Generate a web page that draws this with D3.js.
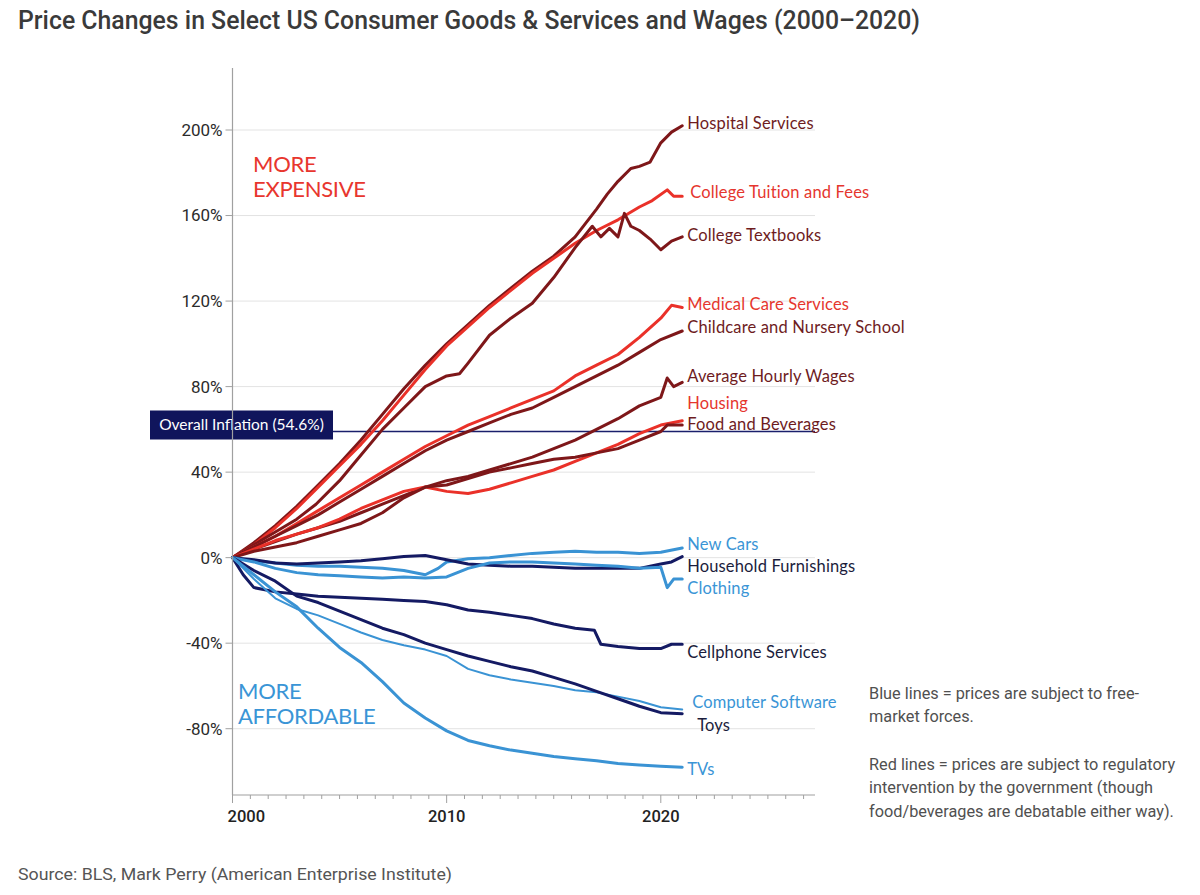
<!DOCTYPE html>
<html>
<head>
<meta charset="utf-8">
<script src="https://cdn.jsdelivr.net/npm/d3@7"></script>
<style>
  body { margin: 0; background: #fff; }
  svg { display: block; }
</style>
</head>
<body>
<script>
// values in % change since 2000
const hospitalServices = [[2000,0],[2001,7],[2002,15],[2003,24],[2004,34],[2005,44],[2006,55],[2007,67],[2008,79],[2009,90],[2010,100],[2011,109],[2012,118],[2013,126],[2014,134],[2015,141],[2016,150],[2017,163],[2017.5,170],[2018,176],[2018.6,182],[2019,183],[2019.5,185],[2020,194],[2020.5,199],[2021,202]];
const collegeTuition = [[2000,0],[2001,6],[2002,14],[2003,23],[2004,33],[2005,43],[2006,53],[2007,64],[2008,76],[2009,88],[2010,99],[2011,108],[2012,117],[2013,125],[2014,133],[2015,140],[2016,147],[2017,153],[2018,158],[2019,164],[2019.6,167],[2020.3,172],[2020.6,169],[2021,169]];
const collegeTextbooks = [[2000,0],[2001,6],[2002,12],[2003,18],[2003.9,25],[2005,36],[2006,48],[2007,60],[2008,70],[2009,80],[2010,85],[2010.6,86],[2011,91],[2012,104],[2013,112],[2014,119],[2015,131],[2016,145],[2016.8,155],[2017.2,150],[2017.6,154],[2018,150],[2018.3,161],[2018.6,155],[2019,153],[2019.5,149],[2020,144],[2020.5,148],[2021,150]];
const medicalCare = [[2000,0],[2001,5],[2002,10],[2003,16],[2004,22],[2005,28],[2006,34],[2007,40],[2008,46],[2009,52],[2010,57],[2011,62],[2012,66],[2013,70],[2014,74],[2015,78],[2016,85],[2017,90],[2018,95],[2019,103],[2020,112],[2020.5,118],[2021,117]];
const childcare = [[2000,0],[2001,5],[2002,10],[2003,15],[2004,20],[2005,26],[2006,32],[2007,38],[2008,44],[2009,50],[2010,55],[2011,59],[2012,63],[2013,67],[2014,70],[2015,75],[2016,80],[2017,85],[2018,90],[2019,96],[2020,102],[2021,106]];
const hourlyWages = [[2000,0],[2001,4],[2002,7.5],[2003,11],[2004,14],[2005,17],[2006,21],[2007,25],[2008,29],[2009,33],[2010,36],[2011,38],[2012,41],[2013,44],[2014,47],[2015,51],[2016,55],[2017,60],[2018,65],[2019,71],[2020,75],[2020.3,84],[2020.6,80],[2021,82]];
const housing = [[2000,0],[2001,4],[2002,8],[2003,11],[2004,14],[2005,18],[2006,23],[2007,27],[2008,31],[2009,33],[2010,31],[2011,30],[2012,32],[2013,35],[2014,38],[2015,41],[2016,45],[2017,49],[2018,53],[2019,58],[2020,62],[2021,64]];
const foodBeverages = [[2000,0],[2001,3],[2002,5],[2003,7],[2004,10],[2005,13],[2006,16],[2007,21],[2008,28],[2009,33],[2010,34],[2011,37],[2012,40],[2013,42],[2014,44],[2015,46],[2016,47],[2017,49],[2018,51],[2019,55],[2020,59],[2020.3,62],[2021,62]];
const newCars = [[2000,0],[2001,-1.5],[2002,-2.5],[2003,-3.5],[2004,-4],[2005,-4],[2006,-4.5],[2007,-5],[2008,-6],[2009,-8],[2009.6,-5],[2010,-2],[2011,-0.5],[2012,0],[2013,1],[2014,2],[2015,2.5],[2016,3],[2017,2.5],[2018,2.5],[2019,2],[2020,2.5],[2021,4.5]];
const householdFurnishings = [[2000,0],[2001,-1],[2002,-2.5],[2003,-3],[2004,-2.5],[2005,-2],[2006,-1.5],[2007,-0.5],[2008,0.5],[2009,1],[2010,-1],[2011,-3],[2012,-3.5],[2013,-4],[2014,-4],[2015,-4.5],[2016,-5],[2017,-5],[2018,-5],[2019,-5],[2020,-3],[2020.5,-2],[2021,0.5]];
const clothing = [[2000,0],[2001,-2],[2002,-5],[2003,-7],[2004,-8],[2005,-8.5],[2006,-9],[2007,-9.5],[2008,-9],[2009,-9.5],[2010,-9],[2011,-5],[2012,-2.5],[2013,-2],[2014,-2],[2015,-2.5],[2016,-3],[2017,-3.5],[2018,-4],[2019,-5],[2020,-4.5],[2020.3,-14],[2020.6,-10],[2021,-10]];
const cellphoneServices = [[2000,0],[2000.5,-8],[2001,-14],[2002,-16],[2003,-17],[2004,-18],[2005,-18.5],[2006,-19],[2007,-19.5],[2008,-20],[2009,-20.5],[2010,-22],[2011,-24.5],[2012,-25.5],[2013,-27],[2014,-28.5],[2015,-31],[2016,-33],[2016.9,-34],[2017.2,-40.5],[2018,-41.5],[2019,-42.5],[2020,-42.5],[2020.5,-40.5],[2021,-40.5]];
const computerSoftware = [[2000,0],[2001,-10],[2002,-19],[2003,-24],[2004,-27],[2005,-31],[2006,-35],[2007,-38.5],[2008,-41],[2009,-43],[2010,-46],[2011,-52],[2012,-55],[2013,-57],[2014,-58.5],[2015,-60],[2016,-62],[2017,-63],[2018,-65],[2019,-67],[2020,-70],[2021,-71]];
const toys = [[2000,0],[2001,-6],[2002,-11],[2003,-18],[2004,-21],[2005,-25],[2006,-29],[2007,-33],[2008,-36],[2009,-40],[2010,-43],[2011,-46],[2012,-48.5],[2013,-51],[2014,-53],[2015,-56],[2016,-59],[2017,-62.5],[2018,-66],[2019,-69.5],[2020,-72.5],[2021,-73]];
const tvs = [[2000,0],[2001,-8],[2002,-16],[2003,-23],[2004,-33],[2005,-42],[2006,-49],[2007,-58],[2008,-68],[2009,-75],[2010,-81],[2011,-85.5],[2012,-88],[2013,-90],[2014,-91.5],[2015,-93],[2016,-94],[2017,-95],[2018,-96.3],[2019,-97],[2020,-97.5],[2021,-98]];

const seriesNames = ['Hospital Services', 'College Tuition and Fees', 'College Textbooks', 'Medical Care Services',
  'Childcare and Nursery School', 'Average Hourly Wages', 'Housing', 'Food and Beverages',
  'New Cars', 'Household Furnishings', 'Clothing', 'Cellphone Services', 'Computer Software', 'Toys', 'TVs'];
const seriesValues = [hospitalServices, collegeTuition, collegeTextbooks, medicalCare, childcare, hourlyWages,
  housing, foodBeverages, newCars, householdFurnishings, clothing, cellphoneServices, computerSoftware, toys, tvs];
const seriesGroup = ['darkred', 'red', 'darkred', 'red', 'darkred', 'darkred', 'red', 'darkred',
  'blue', 'navy', 'blue', 'navy', 'blue', 'navy', 'blue'];
// value (in %) at which each end label sits
const labelValues = [203, 170.8, 151, 118.5, 107.6, 85, 72, 62.5, 6.5, -4.2, -14.5, -44, -67.4, -78.6, -99];

const yTicks = [-80, -40, 0, 40, 80, 120, 160, 200];
const xLabelYears = [2000, 2010, 2020];
const inflationValue = 59;
const inflationText = 'Overall Inflation (54.6%)';

// layout
const width = 1200;
const height = 895;
const lineColor = { darkred: '#7e1719', red: '#ea3129', blue: '#3a93d4', navy: '#141a63' };
const labelColor = { darkred: '#6e1c1e', red: '#e5362e', blue: '#3a95d6', navy: '#1b1d3c' };
const labelDx = { 'Computer Software': 5, 'Toys': 10, 'College Tuition and Fees': 3 };

const x = d3.scaleLinear().domain([2000, 2027.2]).range([232.5, 815]);
const y = d3.scaleLinear().domain([-111, 229]).range([795, 68]);

const svg = d3.select('body').append('svg')
  .attr('width', width)
  .attr('height', height);

svg.append('rect').attr('width', width).attr('height', height).attr('fill', '#fff');

// title
svg.append('text')
  .attr('x', 18)
  .attr('y', 29)
  .attr('fill', '#3a3a3a')
  .style('font-family', 'Roboto')
  .style('font-weight', 500)
  .style('font-size', '26px')
  .attr('textLength', 902)
  .attr('lengthAdjust', 'spacingAndGlyphs')
  .text('Price Changes in Select US Consumer Goods & Services and Wages (2000\u20132020)');

// gridlines
svg.append('g')
  .selectAll('line')
  .data(yTicks)
  .join('line')
    .attr('x1', x(2000))
    .attr('x2', 815)
    .attr('y1', d => y(d))
    .attr('y2', d => y(d))
    .attr('stroke', '#e3e3e3')
    .attr('stroke-width', 1);

// overall inflation line + box
svg.append('line')
  .attr('x1', 333)
  .attr('x2', 815)
  .attr('y1', y(inflationValue))
  .attr('y2', y(inflationValue))
  .attr('stroke', '#1a1f6b')
  .attr('stroke-width', 1.5);

svg.append('rect')
  .attr('x', 150)
  .attr('y', y(inflationValue) - 21)
  .attr('width', 183)
  .attr('height', 29)
  .attr('fill', '#10155c');

svg.append('text')
  .attr('x', 241.5)
  .attr('y', y(inflationValue) - 6.5)
  .attr('dy', '0.35em')
  .attr('text-anchor', 'middle')
  .attr('fill', '#fff')
  .style('font-family', 'Lato')
  .style('font-size', '15.5px')
  .text(inflationText);

// lines
const line = d3.line()
  .x(d => x(d[0]))
  .y(d => y(d[1]));

const series = seriesNames.map((name, i) => ({
  name,
  values: seriesValues[i],
  group: seriesGroup[i],
  labelValue: labelValues[i]
}));

const drawOrder = series.filter(s => s.group === 'red' || s.group === 'darkred')
  .concat(series.filter(s => s.group === 'blue' || s.group === 'navy'));

svg.append('g')
  .attr('fill', 'none')
  .attr('stroke-linejoin', 'round')
  .attr('stroke-linecap', 'round')
  .selectAll('path')
  .data(drawOrder)
  .join('path')
    .attr('d', d => line(d.values))
    .attr('stroke', d => lineColor[d.group])
    .attr('stroke-width', d => d.name === 'Computer Software' ? 2 : 3);

// end labels
svg.append('g')
  .selectAll('text')
  .data(series)
  .join('text')
    .attr('x', d => x(d.values[d.values.length - 1][0]) + 5 + (labelDx[d.name] || 0))
    .attr('y', d => y(d.labelValue))
    .attr('dy', '0.35em')
    .attr('fill', d => labelColor[d.group])
    .style('font-family', 'Lato')
    .style('font-size', '16.5px')
    .style('letter-spacing', '0.15px')
    .text(d => d.name);

// y axis
svg.append('line')
  .attr('x1', x(2000)).attr('x2', x(2000))
  .attr('y1', 68).attr('y2', 795)
  .attr('stroke', '#a0a0a0')
  .attr('stroke-width', 1.2);

const yAxis = svg.append('g');
yAxis.selectAll('line')
  .data(yTicks)
  .join('line')
    .attr('x1', x(2000) - 7)
    .attr('x2', x(2000))
    .attr('y1', d => y(d))
    .attr('y2', d => y(d))
    .attr('stroke', '#a0a0a0');
yAxis.selectAll('text')
  .data(yTicks)
  .join('text')
    .attr('x', x(2000) - 10)
    .attr('y', d => y(d))
    .attr('dy', '0.35em')
    .attr('text-anchor', 'end')
    .attr('fill', '#2b2b2b')
    .style('font-family', 'Roboto')
    .style('font-size', '17px')
    .text(d => d + '%');

// x axis
svg.append('line')
  .attr('x1', x(2000)).attr('x2', 815)
  .attr('y1', 795).attr('y2', 795)
  .attr('stroke', '#a0a0a0')
  .attr('stroke-width', 1.2);

const minorTicks = d3.range(0, 33).map(i => 2000 + i * 10 / 12);
svg.append('g')
  .selectAll('line')
  .data(minorTicks)
  .join('line')
    .attr('x1', d => x(d))
    .attr('x2', d => x(d))
    .attr('y1', 795)
    .attr('y2', (d, i) => i % 12 === 0 ? 803 : 799)
    .attr('stroke', '#a0a0a0');

svg.append('g')
  .selectAll('text')
  .data(xLabelYears)
  .join('text')
    .attr('x', d => d === 2000 ? x(d) - 5 : x(d))
    .attr('y', 822)
    .attr('text-anchor', d => d === 2000 ? 'start' : 'middle')
    .attr('fill', '#222')
    .style('font-family', 'Roboto')
    .style('font-weight', 500)
    .style('font-size', '16.5px')
    .text(d => d);

// region captions
const caption = (lines, px, py, color) => {
  svg.append('text')
    .attr('fill', color)
    .style('font-family', 'Lato')
    .style('font-size', '22px')
    .style('letter-spacing', '-0.3px')
    .selectAll('tspan')
    .data(lines)
    .join('tspan')
      .attr('x', px)
      .attr('y', (d, i) => py + i * 25)
      .text(d => d);
};
caption(['MORE', 'EXPENSIVE'], 253, 172, '#e8362e');
caption(['MORE', 'AFFORDABLE'], 238, 699, '#3a95d6');

// side note
const noteLines = ['Blue lines = prices are subject to free-', 'market forces.', '',
  'Red lines = prices are subject to regulatory', 'intervention by the government (though',
  'food/beverages are debatable either way).'];
const noteY = [699, 722, 0, 770, 793, 817];
svg.append('g')
  .selectAll('text')
  .data(noteLines.map((t, i) => ({ t, yy: noteY[i] })).filter(d => d.t))
  .join('text')
    .attr('x', 869)
    .attr('y', d => d.yy)
    .attr('fill', '#505050')
    .style('font-family', 'Roboto')
    .style('font-size', '16.3px')
    .text(d => d.t);

// source
svg.append('text')
  .attr('x', 18)
  .attr('y', 880)
  .attr('fill', '#555')
  .style('font-family', 'Roboto')
  .style('font-size', '17px')
  .attr('textLength', 434)
  .attr('lengthAdjust', 'spacingAndGlyphs')
  .text('Source: BLS, Mark Perry (American Enterprise Institute)');
</script>
</body>
</html>
